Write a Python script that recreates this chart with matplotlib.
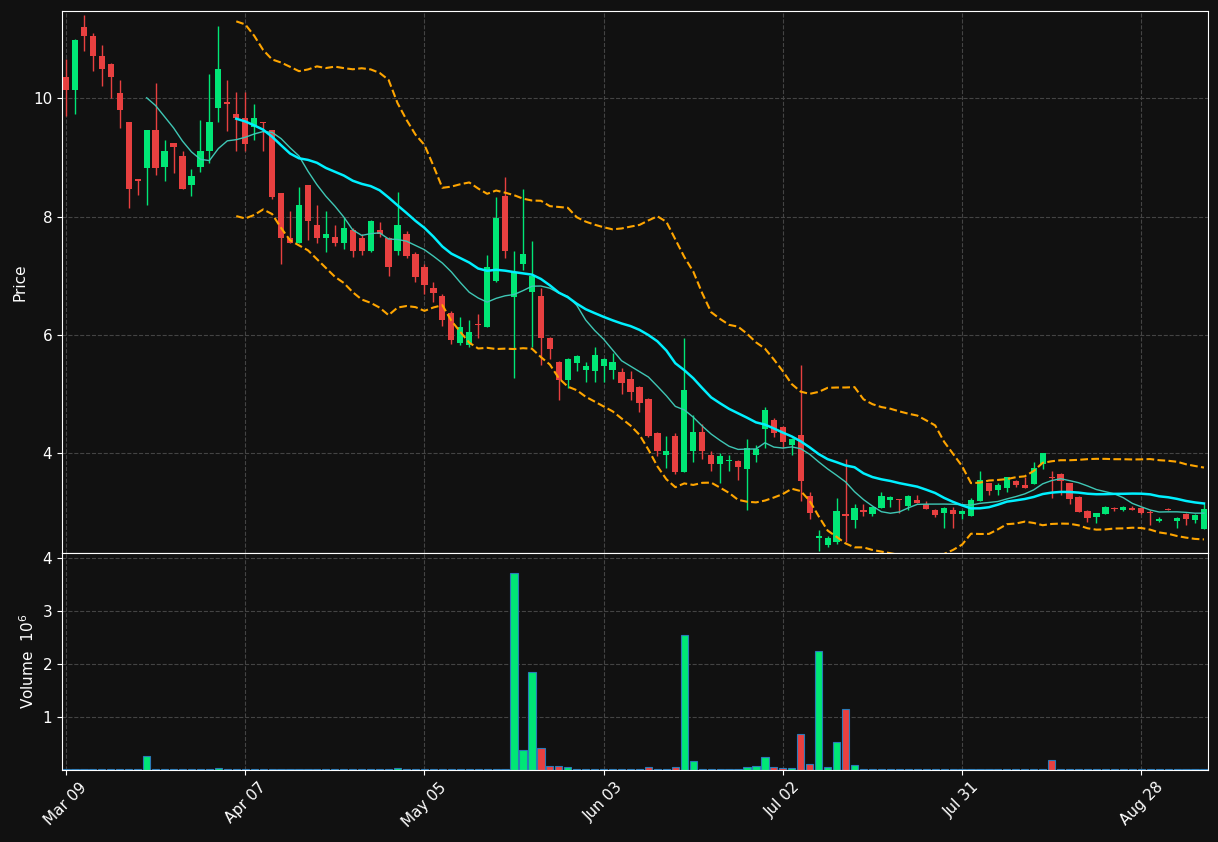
import numpy as np
import pandas as pd
import matplotlib
matplotlib.use("Agg")
import matplotlib.pyplot as plt

# OHLC (price units), one entry per trading day
opens = [10.36, 10.14, 11.20, 11.05, 10.71, 10.58, 10.08, 9.59, 8.63, 8.82, 9.46, 8.83, 9.24, 9.03, 8.53, 8.83,
         9.10, 9.83, 9.93, 9.73, 9.66, 9.51, 9.60, 9.46, 8.40, 7.63, 7.56, 8.54, 7.85, 7.63, 7.66, 7.56,
         7.78, 7.64, 7.41, 7.78, 7.64, 7.41, 7.71, 7.36, 7.15, 6.80, 6.66, 6.37, 5.86, 5.83, 6.18, 6.14,
         6.92, 8.34, 6.65, 7.20, 6.73, 6.66, 5.95, 5.54, 5.24, 5.53, 5.41, 5.39, 5.47, 5.41, 5.37, 5.25,
         5.12, 4.92, 4.34, 3.98, 4.29, 3.68, 4.05, 4.36, 3.98, 3.83, 3.87, 3.87, 3.73, 3.97, 4.41, 4.56,
         4.44, 4.14, 4.32, 3.29, 2.58, 2.45, 2.50, 2.97, 2.88, 3.05, 2.97, 3.08, 3.22, 3.23, 3.12, 3.22,
         3.15, 3.05, 2.99, 3.05, 2.98, 2.95, 3.20, 3.50, 3.39, 3.41, 3.54, 3.47, 3.49, 3.83, 3.61, 3.66,
         3.50, 3.27, 3.03, 2.93, 2.98, 3.08, 3.05, 3.08, 3.08, 3.00, 2.86, 3.07, 2.86, 2.98, 2.88, 2.73]
closes = [10.14, 10.98, 11.05, 10.71, 10.49, 10.36, 9.80, 8.46, 8.60, 9.46, 8.82, 9.10, 9.17, 8.47, 8.68, 9.10,
          9.59, 10.49, 9.90, 9.66, 9.22, 9.66, 9.58, 8.33, 7.63, 7.56, 8.19, 7.92, 7.63, 7.71, 7.56, 7.80,
          7.41, 7.41, 7.92, 7.70, 7.14, 7.85, 7.34, 6.98, 6.85, 6.71, 6.25, 5.92, 6.13, 6.05, 6.17, 7.15,
          7.98, 7.41, 7.07, 7.36, 7.00, 5.95, 5.76, 5.24, 5.60, 5.65, 5.48, 5.66, 5.59, 5.54, 5.19, 5.03,
          4.86, 4.30, 4.05, 4.05, 3.68, 5.07, 4.36, 4.05, 3.83, 3.95, 3.88, 3.77, 4.10, 4.07, 4.73, 4.34,
          4.20, 4.24, 3.53, 3.00, 2.60, 2.58, 3.03, 2.95, 3.08, 3.01, 3.10, 3.29, 3.27, 3.22, 3.29, 3.17,
          3.07, 2.96, 3.08, 2.98, 3.03, 3.22, 3.56, 3.37, 3.46, 3.60, 3.46, 3.42, 3.76, 4.00, 3.58, 3.53,
          3.24, 3.02, 2.91, 2.99, 3.10, 3.06, 3.10, 3.05, 3.00, 2.99, 2.90, 3.05, 2.91, 2.90, 2.96, 3.07]
highs = [10.66, 11.00, 11.41, 11.10, 10.90, 10.60, 10.30, 9.60, 8.63, 9.46, 10.25, 9.30, 9.24, 9.10, 8.80, 9.63,
         10.40, 11.22, 10.30, 10.10, 10.10, 9.90, 9.60, 9.46, 8.40, 8.10, 8.50, 8.54, 8.20, 8.10, 7.85, 8.00,
         7.80, 7.70, 7.95, 7.90, 7.65, 8.41, 7.75, 7.40, 7.20, 6.90, 6.70, 6.40, 6.30, 6.25, 6.35, 7.35,
         8.33, 8.67, 7.42, 8.47, 7.58, 6.80, 5.97, 5.56, 5.62, 5.67, 5.55, 5.80, 5.61, 5.70, 5.45, 5.40,
         5.14, 4.94, 4.36, 4.30, 4.35, 5.95, 4.65, 4.50, 4.05, 4.00, 3.98, 3.89, 4.25, 4.15, 4.78, 4.60,
         4.46, 4.26, 5.50, 3.35, 2.70, 2.60, 3.25, 3.90, 3.15, 3.15, 3.10, 3.35, 3.28, 3.24, 3.30, 3.30,
         3.20, 3.06, 3.09, 3.10, 3.04, 3.25, 3.70, 3.51, 3.50, 3.61, 3.55, 3.60, 3.85, 4.01, 3.70, 3.67,
         3.51, 3.28, 3.04, 3.00, 3.11, 3.10, 3.11, 3.12, 3.09, 3.05, 2.92, 3.08, 2.92, 2.99, 2.97, 3.15]
lows = [9.69, 9.73, 10.80, 10.45, 10.20, 10.00, 9.50, 8.14, 8.37, 8.20, 8.70, 8.60, 8.73, 8.47, 8.35, 8.75,
        8.90, 9.60, 9.45, 9.10, 9.10, 9.30, 9.10, 8.30, 7.20, 7.55, 7.55, 7.60, 7.55, 7.40, 7.50, 7.45,
        7.32, 7.35, 7.40, 7.65, 7.00, 7.35, 7.30, 6.90, 6.70, 6.55, 6.15, 5.85, 5.83, 5.80, 5.95, 6.14,
        6.90, 7.30, 5.27, 7.10, 5.80, 5.50, 5.60, 4.90, 5.10, 5.40, 5.20, 5.20, 5.20, 5.25, 5.00, 4.90,
        4.70, 4.28, 3.95, 3.75, 3.66, 3.68, 3.85, 3.90, 3.70, 3.50, 3.70, 3.55, 3.05, 3.85, 4.10, 4.28,
        4.10, 3.98, 3.20, 2.90, 2.35, 2.42, 2.48, 2.50, 2.75, 2.95, 2.95, 3.08, 3.10, 3.00, 3.05, 3.16,
        3.06, 2.92, 2.75, 2.75, 2.90, 2.94, 3.19, 3.30, 3.30, 3.35, 3.44, 3.41, 3.48, 3.73, 3.25, 3.30,
        3.15, 3.01, 2.85, 2.82, 2.97, 3.03, 3.03, 3.04, 2.98, 2.80, 2.85, 3.04, 2.74, 2.80, 2.82, 2.72]
volumes = [0.01, 0.01, 0.02, 0.01, 0.01, 0.01, 0.01, 0.02, 0.01, 0.27, 0.01, 0.01, 0.01, 0.01, 0.01, 0.01,
           0.02, 0.04, 0.01, 0.01, 0.01, 0.01, 0.01, 0.01, 0.01, 0.01, 0.01, 0.01, 0.01, 0.01, 0.01, 0.01,
           0.01, 0.01, 0.01, 0.01, 0.01, 0.03, 0.01, 0.01, 0.01, 0.01, 0.01, 0.01, 0.01, 0.01, 0.01, 0.01,
           0.01, 0.01, 3.72, 0.38, 1.85, 0.42, 0.08, 0.08, 0.05, 0.01, 0.01, 0.01, 0.02, 0.01, 0.01, 0.01,
           0.01, 0.05, 0.01, 0.01, 0.05, 2.55, 0.17, 0.01, 0.01, 0.01, 0.01, 0.01, 0.05, 0.08, 0.25, 0.05,
           0.03, 0.03, 0.68, 0.12, 2.25, 0.05, 0.52, 1.15, 0.10, 0.02, 0.01, 0.01, 0.01, 0.01, 0.01, 0.01,
           0.01, 0.01, 0.01, 0.01, 0.01, 0.01, 0.01, 0.01, 0.01, 0.01, 0.01, 0.01, 0.01, 0.01, 0.18, 0.01,
           0.01, 0.01, 0.01, 0.01, 0.01, 0.01, 0.01, 0.01, 0.01, 0.01, 0.01, 0.01, 0.01, 0.01, 0.01, 0.01]
tick_pos = [0, 20, 40, 60, 80, 100, 120]
tick_labels = ["Mar 09", "Apr 07", "May 05", "Jun 03", "Jul 02", "Jul 31", "Aug 28"]

bg = "#111111"
up_c, down_c = "#00e676", "#e84040"

o, c, h, l = map(np.array, (opens, closes, highs, lows))
x = np.arange(len(o))
up = c >= o
cols = np.where(up, up_c, down_c)

close_s = pd.Series(c)
ma10 = close_s.rolling(10).mean()
ma20 = close_s.rolling(20).mean()
sd20 = close_s.rolling(20).std(ddof=0)

fig = plt.figure(figsize=(12.18, 8.42), dpi=100, facecolor=bg)
ax = fig.add_axes([62 / 1218, 1 - 553 / 842, 1146 / 1218, 542 / 842], facecolor=bg)
axv = fig.add_axes([62 / 1218, 1 - 770 / 842, 1146 / 1218, 217 / 842], facecolor=bg, sharex=ax)

# candles
ax.vlines(x, l, h, colors=cols, linewidth=1)
body = np.maximum(np.abs(c - o), 0.015)
ax.bar(x, body, bottom=np.minimum(o, c), width=0.7, color=cols, linewidth=0)

ax.plot(x, ma10, color="#3fc7b5", linewidth=1)
ax.plot(x, ma20, color="#00f0ff", linewidth=1.8)
ax.plot(x, ma20 + 2 * sd20, color="orange", linestyle="--", linewidth=1.5)
ax.plot(x, ma20 - 2 * sd20, color="orange", linestyle="--", linewidth=1.5)

ax.set_ylim(2.32, 11.47)
ax.set_yticks([4, 6, 8, 10])
ax.set_ylabel("Price", color="white", fontsize=11)
ax.set_xlim(-0.45, len(o) - 0.55)

axv.bar(x, volumes, width=0.8, color=cols, edgecolor="#2a7ab8", linewidth=0.8)
axv.set_ylim(0, 4.09)
axv.set_yticks([1, 2, 3, 4])
axv.set_ylabel("Volume  $10^{6}$", color="white", fontsize=11)
axv.set_xticks(tick_pos)
axv.set_xticklabels(tick_labels, rotation=45)

for a in (ax, axv):
    a.grid(True, color="#444444", linestyle="--", linewidth=0.8)
    a.set_axisbelow(True)
    a.tick_params(colors="white", labelsize=11)
    for s in a.spines.values():
        s.set_color("white")
plt.setp(ax.get_xticklabels(), visible=False)
ax.tick_params(axis="x", length=0)

fig.savefig("out.png", dpi=100, facecolor=bg)
